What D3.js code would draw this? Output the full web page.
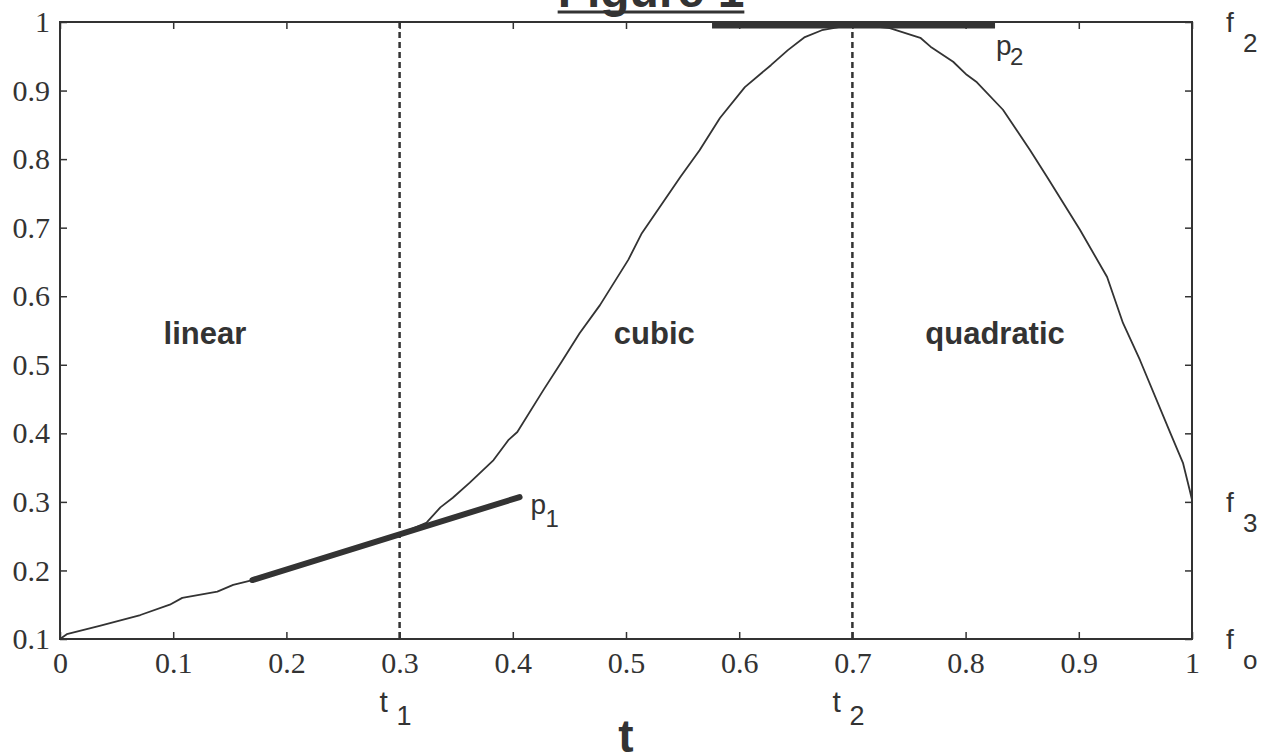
<!DOCTYPE html>
<html>
<head>
<meta charset="utf-8">
<script src="https://cdn.jsdelivr.net/npm/d3@7"></script>
<style>
  body { margin: 0; background: #fff; }
</style>
</head>
<body>
<svg></svg>
<script>
// curve: linear piece, then cubic, then quadratic
var tValues = [0, 0.006, 0.035, 0.071, 0.097, 0.108, 0.139, 0.153, 0.170, 0.230,
  0.300, 0.324, 0.336, 0.347, 0.362, 0.383, 0.396, 0.404, 0.427, 0.443,
  0.459, 0.477, 0.502, 0.514, 0.548, 0.565, 0.583, 0.605, 0.628, 0.643,
  0.658, 0.673, 0.693, 0.716, 0.733, 0.760, 0.769, 0.789, 0.801, 0.810,
  0.833, 0.857, 0.872, 0.901, 0.925, 0.939, 0.954, 0.981, 0.992, 0.998, 1.0];
var fValues = [0.100, 0.107, 0.119, 0.135, 0.150, 0.160, 0.169, 0.179, 0.186, 0.217,
  0.253, 0.270, 0.292, 0.306, 0.328, 0.361, 0.390, 0.402, 0.463, 0.504,
  0.546, 0.587, 0.653, 0.692, 0.774, 0.813, 0.860, 0.905, 0.937, 0.959,
  0.978, 0.988, 0.994, 0.994, 0.991, 0.977, 0.964, 0.942, 0.923, 0.912,
  0.872, 0.813, 0.774, 0.697, 0.628, 0.561, 0.507, 0.400, 0.357, 0.317, 0.303];

// tangent segments p1 and p2
var p1T = [0.170, 0.406];
var p1F = [0.186, 0.307];
var p2T = [0.576, 0.826];
var p2F = [0.995, 0.995];

// breakpoints t1, t2
var breakT = [0.3, 0.7];
var breakNames = ["1", "2"];

// levels marked on the right side
var levelF = [1, 0.3, 0.1];
var levelNames = ["2", "3", "o"];

var regionNames = ["linear", "cubic", "quadratic"];

var xTicks = [0, 0.1, 0.2, 0.3, 0.4, 0.5, 0.6, 0.7, 0.8, 0.9, 1];
var xTickLabels = ["0", "0.1", "0.2", "0.3", "0.4", "0.5", "0.6", "0.7", "0.8", "0.9", "1"];
var yTicks = [0.1, 0.2, 0.3, 0.4, 0.5, 0.6, 0.7, 0.8, 0.9, 1];
var yTickLabels = ["0.1", "0.2", "0.3", "0.4", "0.5", "0.6", "0.7", "0.8", "0.9", "1"];

var svgWidth = 1271;
var svgHeight = 756;
var ink = "#333";
var serif = "'Liberation Serif', 'Times New Roman', serif";
var sans = "'Liberation Sans', Arial, Helvetica, sans-serif";

var svg = d3.select("svg")
  .attr("width", svgWidth)
  .attr("height", svgHeight);

var x = d3.scaleLinear().domain([0, 1]).range([60, 1192]);
var y = d3.scaleLinear().domain([0.1, 1]).range([639, 22]);

// axes, ticks pointing inward like matlab
function styleAxis(g) {
  g.select(".domain").remove();
  g.attr("font-family", serif).attr("font-size", 30);
  g.selectAll(".tick line").attr("stroke", ink).attr("stroke-width", 1.5);
  g.selectAll("text").attr("fill", ink);
}

svg.append("g")
  .attr("transform", "translate(0," + y(0.1) + ")")
  .call(d3.axisBottom(x).tickValues(xTicks)
    .tickFormat(function(d, i) { return xTickLabels[i]; })
    .tickSizeInner(-7).tickSizeOuter(0).tickPadding(13))
  .call(styleAxis);

svg.append("g")
  .attr("transform", "translate(0," + y(1) + ")")
  .call(d3.axisTop(x).tickValues(xTicks).tickFormat("")
    .tickSizeInner(-7).tickSizeOuter(0))
  .call(styleAxis);

svg.append("g")
  .attr("transform", "translate(" + x(0) + ",0)")
  .call(d3.axisLeft(y).tickValues(yTicks)
    .tickFormat(function(d, i) { return yTickLabels[i]; })
    .tickSizeInner(-7).tickSizeOuter(0).tickPadding(10))
  .call(styleAxis);

svg.append("g")
  .attr("transform", "translate(" + x(1) + ",0)")
  .call(d3.axisRight(y).tickValues(yTicks).tickFormat("")
    .tickSizeInner(-7).tickSizeOuter(0))
  .call(styleAxis);

svg.append("rect")
  .attr("x", x(0))
  .attr("y", y(1))
  .attr("width", x(1) - x(0))
  .attr("height", y(0.1) - y(1))
  .attr("fill", "none")
  .attr("stroke", ink)
  .attr("stroke-width", 2);

// dashed breakpoint lines
svg.selectAll(".break")
  .data(breakT)
  .enter()
  .append("line")
  .attr("class", "break")
  .attr("x1", function(d) { return x(d); })
  .attr("x2", function(d) { return x(d); })
  .attr("y1", y(1))
  .attr("y2", y(0.1))
  .attr("stroke", ink)
  .attr("stroke-width", 2.5)
  .attr("stroke-dasharray", "6,4");

// the curve
var points = tValues.map(function(t, i) { return [t, fValues[i]]; });
var line = d3.line()
  .x(function(d) { return x(d[0]); })
  .y(function(d) { return y(d[1]); });

svg.append("path")
  .datum(points)
  .attr("d", line)
  .attr("fill", "none")
  .attr("stroke", ink)
  .attr("stroke-width", 1.8)
  .attr("stroke-linejoin", "round");

// tangents
svg.append("path")
  .datum(p1T.map(function(t, i) { return [t, p1F[i]]; }))
  .attr("d", line)
  .attr("stroke", ink)
  .attr("stroke-width", 6)
  .attr("stroke-linecap", "round");

svg.append("path")
  .datum(p2T.map(function(t, i) { return [t, p2F[i]]; }))
  .attr("d", line)
  .attr("stroke", ink)
  .attr("stroke-width", 6);

// labels with subscripts
function subLabel(px, py, main, sub, size, subSize, dx, dy) {
  svg.append("text")
    .attr("x", px).attr("y", py)
    .attr("font-family", sans).attr("font-size", size)
    .attr("fill", ink)
    .text(main);
  svg.append("text")
    .attr("x", px + dx).attr("y", py + dy)
    .attr("font-family", sans).attr("font-size", subSize)
    .attr("fill", ink)
    .text(sub);
}

subLabel(x(p1T[1]) + 11, y(p1F[1]) + 17, "p", "1", 28, 24, 15, 13);
subLabel(x(p2T[1]) + 1, y(p2F[1]) + 30, "p", "2", 28, 24, 14, 10);

breakT.forEach(function(t, i) {
  subLabel(x(t) - 20, 712, "t", breakNames[i], 30, 27, 17, 13);
});

levelF.forEach(function(f, i) {
  subLabel(1226, y(f) + 10, "f", levelNames[i], 28, 26, 17, 20);
});

// region names
var regionT = [0.128, 0.525, 0.826];
svg.selectAll(".region")
  .data(regionNames)
  .enter()
  .append("text")
  .attr("class", "region")
  .attr("x", function(d, i) { return x(regionT[i]); })
  .attr("y", y(0.53))
  .attr("text-anchor", "middle")
  .attr("font-family", sans)
  .attr("font-weight", "bold")
  .attr("font-size", 31)
  .attr("fill", ink)
  .text(function(d) { return d; });

// x axis title
svg.append("text")
  .attr("x", x(0.5))
  .attr("y", 752)
  .attr("text-anchor", "middle")
  .attr("font-family", sans)
  .attr("font-weight", "bold")
  .attr("font-size", 46)
  .attr("fill", ink)
  .text("t");

// figure title, cut off at the top edge
var title = svg.append("text")
  .attr("x", 651)
  .attr("y", 7)
  .attr("text-anchor", "middle")
  .attr("font-family", sans)
  .attr("font-weight", "bold")
  .attr("font-size", 48)
  .attr("fill", ink)
  .text("Figure 1");
var titleLen = title.node().getComputedTextLength();
svg.append("line")
  .attr("x1", 651 - titleLen / 2)
  .attr("x2", 651 + titleLen / 2)
  .attr("y1", 12)
  .attr("y2", 12)
  .attr("stroke", ink)
  .attr("stroke-width", 3);
</script>
</body>
</html>
